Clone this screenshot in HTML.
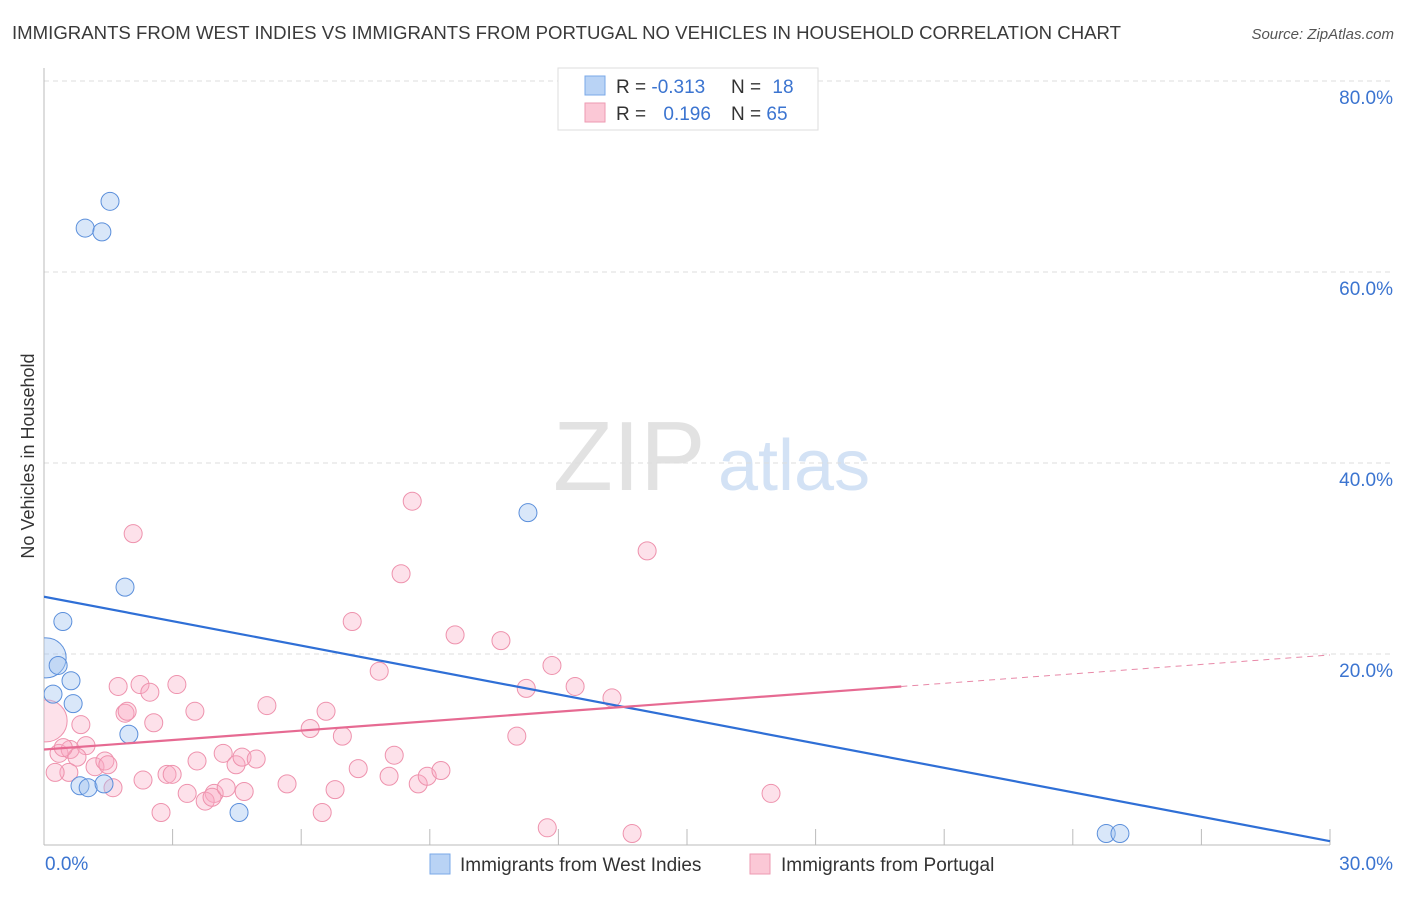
<!DOCTYPE html>
<html><head><meta charset="utf-8"><style>
body{margin:0;background:#fff;font-family:"Liberation Sans",sans-serif;}
svg text{font-family:"Liberation Sans",sans-serif;}
</style></head><body>
<svg id="chart" width="1406" height="892" xmlns="http://www.w3.org/2000/svg">
<defs><clipPath id="plotclip"><rect x="44" y="60" width="1360" height="800"/></clipPath></defs>
<text x="12" y="39" font-size="18.5" fill="#3a3a3a" textLength="1109" lengthAdjust="spacingAndGlyphs">IMMIGRANTS FROM WEST INDIES VS IMMIGRANTS FROM PORTUGAL NO VEHICLES IN HOUSEHOLD CORRELATION CHART</text>
<text x="1394" y="39" font-size="15" font-style="italic" fill="#555" text-anchor="end">Source: ZipAtlas.com</text>
<g>
<text x="553" y="490" font-size="98" font-family="Liberation Serif" fill="#e2e2e2">ZIP</text>
<text x="718" y="490" font-size="72" fill="#d3e2f5">atlas</text>
</g>
<g id="grid"></g>
<g id="axes"></g>
<g id="marks" clip-path="url(#plotclip)"></g>
<text transform="translate(34,456) rotate(-90)" font-size="18" fill="#333" text-anchor="middle">No Vehicles in Household</text>
<g>
<rect x="558" y="68" width="260" height="62" fill="#fff" stroke="#ddd"/>
<rect x="585" y="76" width="20" height="19" fill="#b9d3f5" stroke="#7aa8e8"/>
<rect x="585" y="103" width="20" height="19" fill="#fbc8d6" stroke="#ee9ab2"/>
<text x="616" y="93" font-size="19" fill="#333">R = <tspan fill="#3b74d0">-0.313</tspan></text>
<text x="731" y="93" font-size="19" fill="#333">N = <tspan fill="#3b74d0" dx="6">18</tspan></text>
<text x="616" y="120" font-size="19" fill="#333">R = <tspan fill="#3b74d0" dx="12">0.196</tspan></text>
<text x="731" y="120" font-size="19" fill="#333">N = <tspan fill="#3b74d0">65</tspan></text>
</g>
<g>
<rect x="430" y="854" width="20" height="20" fill="#b9d3f5" stroke="#7aa8e8"/>
<text x="460" y="871" font-size="19" fill="#333">Immigrants from West Indies</text>
<rect x="750" y="854" width="20" height="20" fill="#fbc8d6" stroke="#ee9ab2"/>
<text x="781" y="871" font-size="19" fill="#333">Immigrants from Portugal</text>
</g>
</svg>
<script>
const blueX=[1.54,0.96,1.35,11.29,1.89,0.44,0.05,0.33,0.63,0.21,0.68,1.98,0.84,1.03,1.40,4.55,24.78,25.10];
const blueY=[67.4,64.6,64.2,34.8,27.0,23.4,19.6,18.8,17.2,15.8,14.8,11.6,6.2,6.0,6.4,3.4,1.2,1.2];
const blueR=[9,9,9,9,9,9,20,9,9,9,9,9,9,9,9,9,9,9];
const pinkX=[8.59,2.08,14.07,8.33,7.19,9.59,10.66,11.85,7.82,11.25,12.39,13.25,11.03,16.96,13.72,11.74,1.73,2.24,2.47,3.10,1.89,1.94,2.56,3.52,5.20,0.86,0.05,6.58,6.21,6.96,0.35,0.61,0.98,0.77,1.19,1.42,1.49,0.58,0.26,4.18,4.48,4.62,4.95,3.57,2.87,2.99,1.61,2.31,3.34,3.97,3.76,3.92,4.67,4.25,2.73,5.67,6.79,6.49,7.33,8.05,8.17,8.73,8.94,9.26,0.45];
const pinkY=[36.0,32.6,30.8,28.4,23.4,22.0,21.4,18.8,18.2,16.4,16.6,15.4,11.4,5.4,1.2,1.8,16.6,16.8,16.0,16.8,13.8,14.0,12.8,14.0,14.6,12.6,13.0,14.0,12.2,11.4,9.6,10.0,10.4,9.2,8.2,8.8,8.4,7.6,7.6,9.6,8.4,9.2,9.0,8.8,7.4,7.4,6.0,6.8,5.4,5.4,4.6,5.0,5.6,6.0,3.4,6.4,5.8,3.4,8.0,7.2,9.4,6.4,7.2,7.8,10.2];
const blueTrend=[[0,26.0],[30,0.4]];
const pinkTrendSolid=[[0,10.0],[20.0,16.6]];
const pinkTrendDash=[[20.0,16.6],[30,19.9]];
const yTicks=[20,40,60,80];
const xTicks=[0,3,6,9,12,15,18,21,24,27,30];
const NS='http://www.w3.org/2000/svg';
const X=v=>44+v/30*1286;
const Y=v=>845-v/80*764;
function mk(tag,attrs,parent){const e=document.createElementNS(NS,tag);for(const k in attrs)e.setAttribute(k,attrs[k]);document.getElementById(parent).appendChild(e);return e;}
yTicks.forEach(t=>{
 const l=mk('line',{x1:44,x2:1394,y1:Y(t),y2:Y(t),stroke:'#ddd','stroke-dasharray':'5,4'},'grid');
 
 
 const tx=mk('text',{x:1393,y:Y(t)+23,'font-size':19,fill:'#3b74d0','text-anchor':'end'},'axes');
 tx.textContent=t.toFixed(1)+'%';
 
 
});
mk('line',{x1:44,x2:44,y1:68,y2:845,stroke:'#bbb'},'axes');
mk('line',{x1:44,x2:1330,y1:845,y2:845,stroke:'#bbb'},'axes');
xTicks.forEach(t=>{
 const l=mk('line',{x1:X(t),x2:X(t),y1:829,y2:845,stroke:'#bbb'},'axes');
 
 
});
const x0=mk('text',{x:45,y:870,'font-size':19,fill:'#3b74d0'},'axes');x0.textContent='0.0%';


const x1=mk('text',{x:1393,y:870,'font-size':19,fill:'#3b74d0','text-anchor':'end'},'axes');x1.textContent='30.0%';


pinkX.forEach((v,i)=>{
 const c=mk('circle',{cx:X(v),cy:Y(pinkY[i]),r:i==26?21:9,fill:'rgba(248,170,195,0.35)',stroke:'#ee92ad','stroke-width':1},'marks');
 
 
});
blueX.forEach((v,i)=>{
 const c=mk('circle',{cx:X(v),cy:Y(blueY[i]),r:blueR[i],fill:'rgba(160,195,240,0.4)',stroke:'#5b8fdb','stroke-width':1},'marks');
 
 
});
const bl=mk('line',{x1:X(blueTrend[0][0]),y1:Y(blueTrend[0][1]),x2:X(blueTrend[1][0]),y2:Y(blueTrend[1][1]),stroke:'#2f6fd6','stroke-width':2.2},'marks');


const pl=mk('line',{x1:X(pinkTrendSolid[0][0]),y1:Y(pinkTrendSolid[0][1]),x2:X(pinkTrendSolid[1][0]),y2:Y(pinkTrendSolid[1][1]),stroke:'#e66a92','stroke-width':2.2},'marks');


const pd=mk('line',{x1:X(pinkTrendDash[0][0]),y1:Y(pinkTrendDash[0][1]),x2:X(pinkTrendDash[1][0]),y2:Y(pinkTrendDash[1][1]),stroke:'#e889a8','stroke-width':1,'stroke-dasharray':'6,5'},'marks');


</script>
</body></html>
